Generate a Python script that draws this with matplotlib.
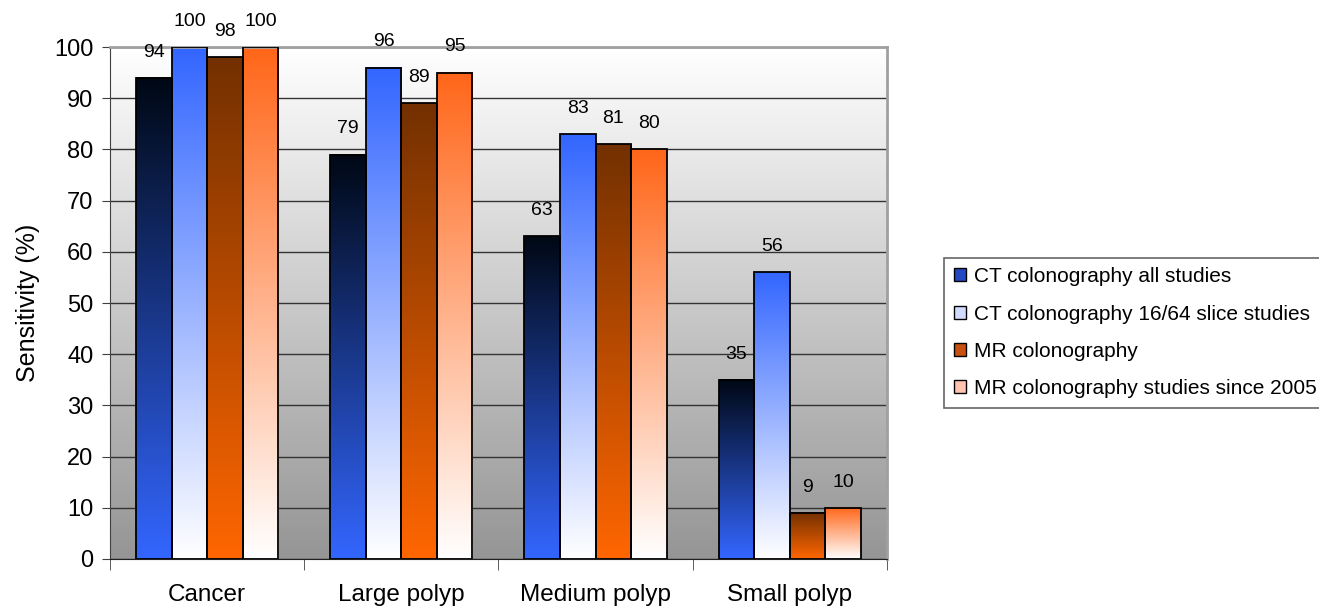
import numpy as np
import matplotlib
matplotlib.use("Agg")
import matplotlib.pyplot as plt
from matplotlib.colors import LinearSegmentedColormap
from matplotlib.patches import Patch

plt.rcParams['font.family'] = ['Liberation Sans', 'DejaVu Sans']

categories = ['Cancer', 'Large polyp', 'Medium polyp', 'Small polyp']
series_names = ['CT colonography all studies',
                'CT colonography 16/64 slice studies',
                'MR colonography',
                'MR colonography studies since 2005']
ct_all = [94, 79, 63, 35]
ct_1664 = [100, 96, 83, 56]
mr_all = [98, 89, 81, 9]
mr_2005 = [100, 95, 80, 10]
series = [ct_all, ct_1664, mr_all, mr_2005]

# gradient colours, top -> bottom of each bar
grad_colors = [('#000814', '#3366ff'),
               ('#3366ff', '#ffffff'),
               ('#733000', '#ff6600'),
               ('#ff6619', '#ffffff')]
legend_colors = ['#2448c0', '#d0dcff', '#c85010', '#ffc4b0']

fig = plt.figure(figsize=(13.19, 6.08), dpi=100)
ax = fig.add_axes([0.0834, 0.0806, 0.589, 0.842])

# plot area background: white at top, grey at bottom
bg = LinearSegmentedColormap.from_list('bg', ['#959595', '#ffffff'])
ax.imshow(np.linspace(0, 1, 256).reshape(-1, 1), cmap=bg, origin='lower',
          extent=[0, 1, 0, 1], transform=ax.transAxes, aspect='auto', zorder=0)

x = np.arange(len(categories))
w = 0.183
for i, vals in enumerate(series):
    cmap = LinearSegmentedColormap.from_list('g%d' % i, [grad_colors[i][1], grad_colors[i][0]])
    pos = x + (i - 1.5) * w
    bars = ax.bar(pos, vals, w, facecolor='none', edgecolor='black', linewidth=1.3, zorder=3)
    for b, v in zip(bars, vals):
        x0 = b.get_x()
        ax.imshow(np.linspace(0, 1, 256).reshape(-1, 1), cmap=cmap, origin='lower',
                  extent=[x0, x0 + w, 0, v], aspect='auto', zorder=2)
        ax.annotate(str(v), (x0 + w / 2, v), xytext=(0, 18.5), textcoords='offset points',
                    ha='center', va='center', fontsize=14)

ax.set_xlim(-0.5, 3.5)
ax.set_ylim(0, 100)
ax.set_yticks(range(0, 101, 10))
ax.set_xticks(x)
ax.set_xticklabels(categories)
ax.set_xticks(np.arange(-0.5, 4, 1), minor=True)
ax.tick_params(axis='x', which='major', length=0, pad=18, labelsize=17.5)
ax.tick_params(axis='x', which='minor', length=8, color='#404040')
ax.tick_params(axis='y', length=6, color='#404040', labelsize=17, pad=6)
ax.grid(axis='y', color='#333333', linewidth=1)
ax.set_axisbelow(True)

ax.spines['left'].set_color('#404040')
ax.spines['bottom'].set_color('#202020')
for s in ['top', 'right']:
    ax.spines[s].set_color('#a0a0a0')
    ax.spines[s].set_linewidth(2)

ax.set_ylabel('Sensitivity (%)', fontsize=18, labelpad=10)

handles = [Patch(facecolor=c, edgecolor='black', linewidth=1) for c in legend_colors]
leg = fig.legend(handles, series_names, loc='upper left', bbox_to_anchor=(0.716, 0.576),
                 fontsize=15, frameon=True, fancybox=False, edgecolor='#404040',
                 handlelength=0.6, handleheight=0.6, handletextpad=0.35,
                 labelspacing=0.88, borderpad=0.45, borderaxespad=0)
leg.get_frame().set_linewidth(1.2)

fig.savefig('out.png', dpi=100)
